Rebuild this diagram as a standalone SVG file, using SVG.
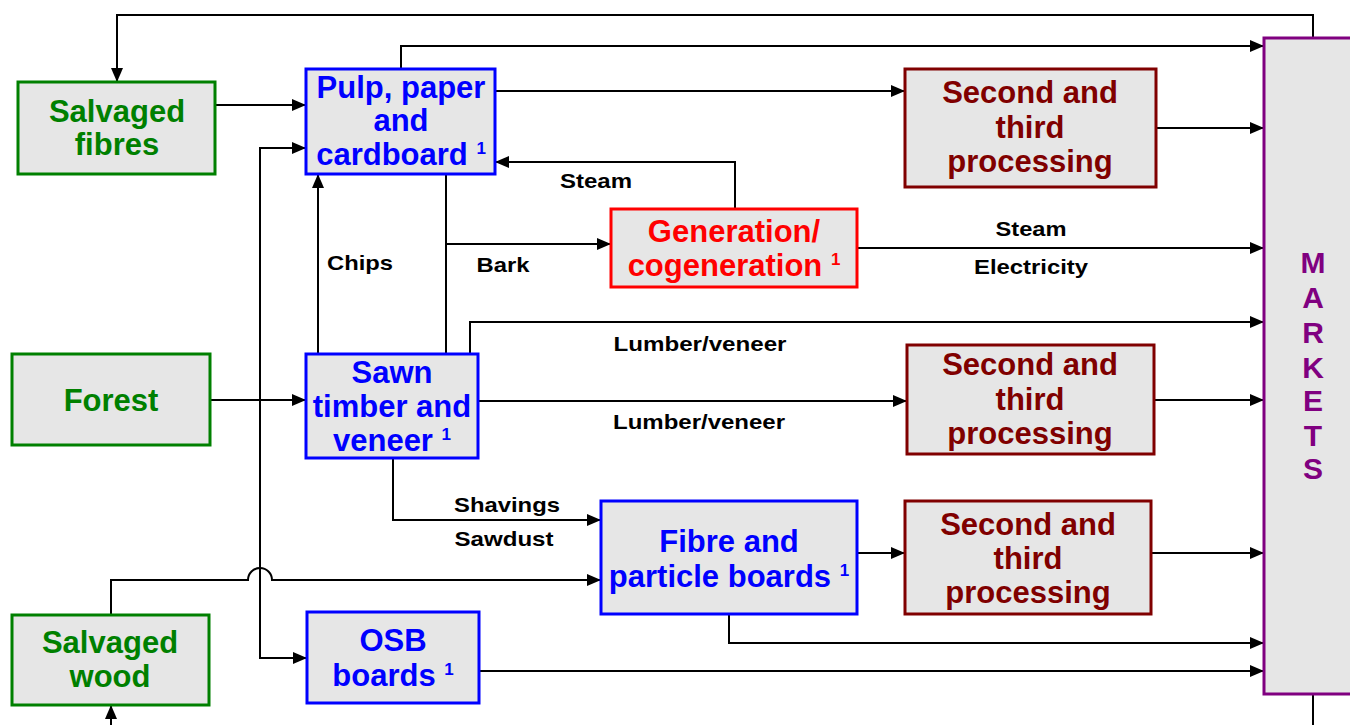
<svg xmlns="http://www.w3.org/2000/svg" width="1350" height="725" viewBox="0 0 1350 725">
<defs>
<marker id="ah" markerWidth="14" markerHeight="12" refX="14" refY="6" orient="auto" markerUnits="userSpaceOnUse"><path d="M0,0 L14,6 L0,12 Z" fill="#000"/></marker>
<style>
.box{fill:#e6e6e6;stroke-width:3}
.g{stroke:#008000}.b{stroke:#0000ff}.r{stroke:#ff0000}.d{stroke:#800000}.p{stroke:#800080}
.t{font-family:"Liberation Sans",Arial,sans-serif;font-weight:bold;font-size:31px;text-anchor:middle}
.tg{fill:#008000}.tb{fill:#0000ff}.tr{fill:#ff0000}.td{fill:#800000}.tp{fill:#800080}
.sup{font-size:17px}
.lb{font-family:"Liberation Sans",Arial,sans-serif;font-weight:bold;font-size:21px;fill:#000;text-anchor:middle}
.c{fill:none;stroke:#000;stroke-width:2}
</style>
</defs>
<rect width="1350" height="725" fill="#fff"/>
<g id="connectors">
<path class="c" d="M1313,38 V15 H117 V82" marker-end="url(#ah)"/>
<path class="c" d="M401,69 V46 H1264" marker-end="url(#ah)"/>
<path class="c" d="M215,105 H306" marker-end="url(#ah)"/>
<path class="c" d="M260,658 V148 H306" marker-end="url(#ah)"/>
<path class="c" d="M260,600 V658 H307" marker-end="url(#ah)"/>
<path class="c" d="M495,91 H905" marker-end="url(#ah)"/>
<path class="c" d="M1156,128 H1264" marker-end="url(#ah)"/>
<path class="c" d="M735,209 V162 H495" marker-end="url(#ah)"/>
<path class="c" d="M446,174 V354"/>
<path class="c" d="M446,244 H611" marker-end="url(#ah)"/>
<path class="c" d="M318,354 V174" marker-end="url(#ah)"/>
<path class="c" d="M857,248 H1264" marker-end="url(#ah)"/>
<path class="c" d="M470,354 V322 H1264" marker-end="url(#ah)"/>
<path class="c" d="M210,400 H306" marker-end="url(#ah)"/>
<path class="c" d="M478,401 H907" marker-end="url(#ah)"/>
<path class="c" d="M1154,400 H1264" marker-end="url(#ah)"/>
<path class="c" d="M393,458 V520 H601" marker-end="url(#ah)"/>
<path class="c" d="M111,615 V580 H248 A12,12 0 0 1 272,580 H601" marker-end="url(#ah)"/>
<path class="c" d="M857,553 H905" marker-end="url(#ah)"/>
<path class="c" d="M1151,553 H1264" marker-end="url(#ah)"/>
<path class="c" d="M729,614 V643 H1264" marker-end="url(#ah)"/>
<path class="c" d="M479,671 H1264" marker-end="url(#ah)"/>
<path class="c" d="M1313,694 V725"/>
<path class="c" d="M111,725 V705" marker-end="url(#ah)"/>
<text class="lb" x="596" y="188" textLength="72" lengthAdjust="spacingAndGlyphs">Steam</text>
<text class="lb" x="360" y="270" textLength="66" lengthAdjust="spacingAndGlyphs">Chips</text>
<text class="lb" x="503" y="272" textLength="53" lengthAdjust="spacingAndGlyphs">Bark</text>
<text class="lb" x="1031" y="236" textLength="71" lengthAdjust="spacingAndGlyphs">Steam</text>
<text class="lb" x="1031" y="274" textLength="114" lengthAdjust="spacingAndGlyphs">Electricity</text>
<text class="lb" x="700" y="351" textLength="173" lengthAdjust="spacingAndGlyphs">Lumber/veneer</text>
<text class="lb" x="699" y="429" textLength="172" lengthAdjust="spacingAndGlyphs">Lumber/veneer</text>
<text class="lb" x="507" y="512" textLength="106" lengthAdjust="spacingAndGlyphs">Shavings</text>
<text class="lb" x="504" y="546" textLength="99" lengthAdjust="spacingAndGlyphs">Sawdust</text>
</g>
<g id="salvaged-fibres"><rect class="box g" x="18" y="82" width="197" height="92"/>
<text class="t tg" x="117" y="122">Salvaged</text><text class="t tg" x="117" y="155">fibres</text></g>
<g id="pulp"><rect class="box b" x="306" y="69" width="189" height="105"/>
<text class="t tb" x="401" y="98">Pulp, paper</text><text class="t tb" x="401" y="131">and</text><text class="t tb" x="401" y="165">cardboard <tspan class="sup" dy="-11">1</tspan></text></g>
<g id="second1"><rect class="box d" x="905" y="69" width="251" height="118"/>
<text class="t td" x="1030" y="103">Second and</text><text class="t td" x="1030" y="138">third</text><text class="t td" x="1030" y="172">processing</text></g>
<g id="generation"><rect class="box r" x="611" y="209" width="246" height="78"/>
<text class="t tr" x="734" y="242">Generation/</text><text class="t tr" x="734" y="276">cogeneration <tspan class="sup" dy="-11">1</tspan></text></g>
<g id="forest"><rect class="box g" x="12" y="354" width="198" height="91"/>
<text class="t tg" x="111" y="411">Forest</text></g>
<g id="sawn"><rect class="box b" x="306" y="354" width="172" height="104"/>
<text class="t tb" x="392" y="383">Sawn</text><text class="t tb" x="392" y="417">timber and</text><text class="t tb" x="392" y="451">veneer <tspan class="sup" dy="-11">1</tspan></text></g>
<g id="second2"><rect class="box d" x="907" y="345" width="247" height="109"/>
<text class="t td" x="1030" y="375">Second and</text><text class="t td" x="1030" y="410">third</text><text class="t td" x="1030" y="444">processing</text></g>
<g id="fibre"><rect class="box b" x="601" y="501" width="256" height="113"/>
<text class="t tb" x="729" y="552">Fibre and</text><text class="t tb" x="729" y="587">particle boards <tspan class="sup" dy="-11">1</tspan></text></g>
<g id="second3"><rect class="box d" x="905" y="501" width="246" height="113"/>
<text class="t td" x="1028" y="535">Second and</text><text class="t td" x="1028" y="569">third</text><text class="t td" x="1028" y="603">processing</text></g>
<g id="salvaged-wood"><rect class="box g" x="12" y="615" width="197" height="90"/>
<text class="t tg" x="110" y="653">Salvaged</text><text class="t tg" x="110" y="687">wood</text></g>
<g id="osb"><rect class="box b" x="307" y="612" width="172" height="91"/>
<text class="t tb" x="393" y="651">OSB</text><text class="t tb" x="393" y="686">boards <tspan class="sup" dy="-11">1</tspan></text></g>
<g id="markets"><rect class="box p" x="1264" y="38" width="100" height="656"/>
<g class="t tp" style="font-size:30px"><text x="1313" y="273">M</text><text x="1313" y="308">A</text><text x="1313" y="343">R</text><text x="1313" y="378">K</text><text x="1313" y="411">E</text><text x="1313" y="446">T</text><text x="1313" y="479">S</text></g></g>
</svg>
